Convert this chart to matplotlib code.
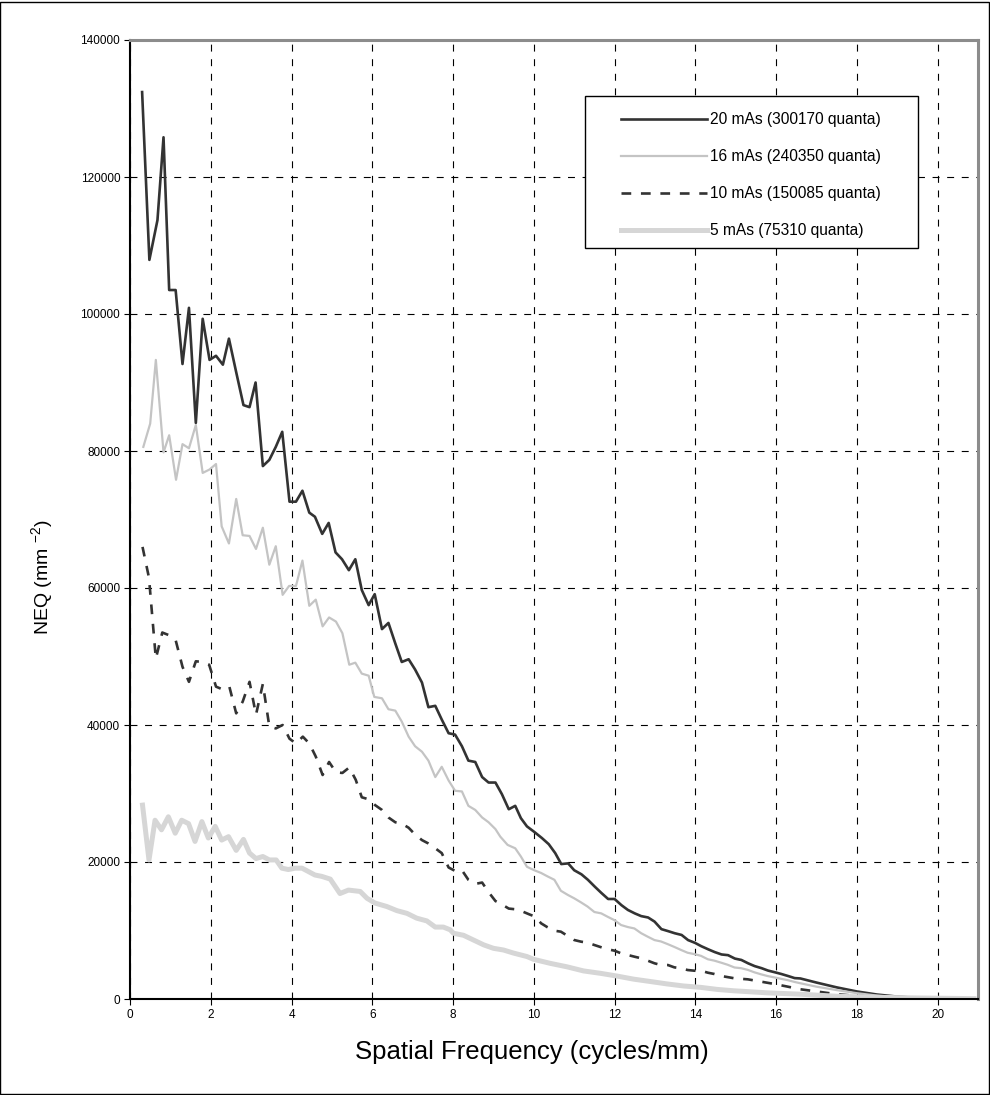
import matplotlib
matplotlib.use("Agg")
import matplotlib.pyplot as plt
from matplotlib.patches import Rectangle

plt.rcParams['font.family'] = ['Liberation Sans', 'DejaVu Sans']
plt.rcParams['mathtext.default'] = 'regular'
plt.rcParams['lines.scale_dashes'] = False

# 20 mAs (300170 quanta)
f20 = [0.30, 0.48, 0.68, 0.83, 0.97, 1.13, 1.30, 1.46, 1.63, 1.80, 1.97, 2.13, 2.30, 2.45, 2.63, 2.81, 2.96, 3.11,
       3.29, 3.45, 3.61, 3.77, 3.95, 4.11, 4.27, 4.44, 4.58, 4.76, 4.92, 5.09, 5.25, 5.42, 5.58, 5.74, 5.91, 6.06,
       6.24, 6.40, 6.57, 6.73, 6.90, 7.06, 7.23, 7.39, 7.56, 7.72, 7.89, 8.05, 8.22, 8.38, 8.55, 8.72, 8.88, 9.05,
       9.21, 9.38, 9.54, 9.68, 9.83, 10.01, 10.20, 10.37, 10.53, 10.68, 10.85, 11.00, 11.18, 11.34, 11.51, 11.67,
       11.84, 12.00, 12.17, 12.33, 12.50, 12.66, 12.83, 12.99, 13.16, 13.33, 13.49, 13.66, 13.82, 13.99, 14.15,
       14.32, 14.48, 14.65, 14.81, 14.98, 15.14, 15.31, 15.47, 15.64, 15.80, 15.97, 16.13, 16.30, 16.46, 16.60,
       17.0, 17.5, 18.0, 18.5, 19.0, 19.5, 20.0, 20.5, 20.9]
neq20 = [132400, 107900, 113700, 125800, 103500, 103500, 92700, 100900, 84100, 99300, 93300, 93900, 92600, 96400,
         91500, 86700, 86400, 90000, 77800, 78700, 80600, 82800, 72600, 72600, 74200, 71000, 70400, 67900, 69500,
         65200, 64200, 62600, 64200, 59700, 57500, 59100, 54000, 54900, 51900, 49200, 49600, 48100, 46200, 42600,
         42800, 40800, 38800, 38600, 36900, 34800, 34600, 32400, 31600, 31600, 29900, 27700, 28200, 26400, 25200,
         24400, 23500, 22600, 21300, 19700, 19800, 18800, 18200, 17400, 16400, 15500, 14600, 14600, 13700, 13000,
         12500, 12100, 11900, 11300, 10200, 9900, 9600, 9350, 8600, 8200, 7700, 7250, 6850, 6500, 6400, 5900, 5700,
         5200, 4800, 4500, 4150, 3900, 3650, 3350, 3050, 3000, 2400, 1700, 1100, 650, 350, 150, 50, 0, 0]

# 16 mAs (240350 quanta)
f16 = [0.33, 0.50, 0.64, 0.83, 0.97, 1.14, 1.30, 1.46, 1.63, 1.80, 1.97, 2.13, 2.27, 2.45, 2.63, 2.79, 2.96, 3.12,
       3.29, 3.45, 3.61, 3.78, 3.94, 4.11, 4.27, 4.44, 4.60, 4.77, 4.93, 5.10, 5.26, 5.43, 5.58, 5.74, 5.91, 6.05,
       6.24, 6.40, 6.57, 6.73, 6.90, 7.06, 7.23, 7.39, 7.56, 7.72, 7.89, 8.05, 8.22, 8.38, 8.55, 8.72, 8.88, 9.05,
       9.17, 9.35, 9.54, 9.68, 9.83, 10.01, 10.18, 10.34, 10.51, 10.67, 10.84, 11.00, 11.17, 11.33, 11.50, 11.67,
       11.83, 12.00, 12.16, 12.33, 12.49, 12.66, 12.82, 12.99, 13.15, 13.32, 13.48, 13.65, 13.81, 13.98, 14.14,
       14.31, 14.47, 14.64, 14.80, 14.97, 15.13, 15.30, 15.46, 15.63, 15.79, 15.96, 16.12, 16.29, 16.45, 16.60,
       17.0, 17.5, 18.0, 18.5, 19.0, 19.5, 20.0, 20.9]
neq16 = [80600, 84000, 93300, 79800, 82300, 75800, 81000, 80400, 83800, 76800, 77300, 78100, 69000, 66500, 73000,
         67700, 67600, 65700, 68800, 63400, 66100, 59000, 60300, 60300, 64000, 57400, 58300, 54400, 55700, 55100,
         53400, 48800, 49100, 47500, 47200, 44100, 43900, 42300, 42100, 40500, 38300, 36900, 36100, 34800, 32400,
         33900, 31900, 30400, 30300, 28200, 27600, 26500, 25800, 24800, 23700, 22500, 22000, 20800, 19300, 18800,
         18400, 17900, 17400, 15800, 15200, 14700, 14100, 13500, 12700, 12500, 12000, 11500, 10800, 10500, 10300,
         9600, 9100, 8600, 8400, 8000, 7600, 7150, 6750, 6550, 6300, 5800, 5600, 5300, 5000, 4600, 4500, 4250, 3900,
         3600, 3350, 3150, 2950, 2750, 2500, 2300, 1800, 1300, 850, 500, 250, 100, 30, 0]

# 10 mAs (150085 quanta)
f10 = [0.31, 0.47, 0.64, 0.80, 0.97, 1.13, 1.30, 1.46, 1.63, 1.80, 1.96, 2.13, 2.29, 2.46, 2.63, 2.79, 2.96, 3.12,
       3.29, 3.45, 3.61, 3.78, 3.95, 4.11, 4.28, 4.44, 4.60, 4.77, 4.93, 5.10, 5.26, 5.43, 5.59, 5.74, 5.91, 6.07,
       6.24, 6.40, 6.57, 6.73, 6.90, 7.06, 7.23, 7.39, 7.56, 7.72, 7.89, 8.05, 8.22, 8.38, 8.55, 8.72, 8.88, 9.05,
       9.21, 9.38, 9.54, 9.71, 9.87, 10.04, 10.18, 10.34, 10.51, 10.67, 10.84, 11.00, 11.17, 11.33, 11.50, 11.67,
       11.83, 12.00, 12.16, 12.33, 12.49, 12.66, 12.82, 12.99, 13.15, 13.32, 13.48, 13.65, 13.81, 13.98, 14.14,
       14.31, 14.47, 14.64, 14.97, 15.30, 15.63, 15.96, 16.29, 16.60, 17.0, 17.5, 18.0, 18.5, 19.0, 19.5, 20.0, 20.9]
neq10 = [66000, 61500, 49700, 53500, 53100, 52400, 48500, 46300, 49300, 49200, 48800, 45600, 45200, 45600, 41700,
         43400, 46300, 41500, 46000, 39800, 39500, 40000, 38000, 37300, 38300, 37300, 35400, 32700, 34600, 33100,
         33000, 33800, 32000, 29450, 29150, 28300, 27600, 26500, 25800, 25600, 25000, 24000, 23200, 22700, 22000,
         21300, 19200, 18700, 18800, 17400, 16800, 17000, 15600, 14300, 13800, 13200, 13100, 12800, 12400, 12000,
         11050, 10470, 9970, 9830, 9200, 8610, 8370, 8220, 7880, 7550, 7260, 7050, 6670, 6420, 6180, 5940, 5600,
         5210, 4960, 4960, 4620, 4480, 4230, 4130, 4130, 3840, 3650, 3360, 3020, 2870, 2530, 2190, 1800, 1420, 1100,
         700, 450, 300, 180, 100, 40, 0]

# 5 mAs (75310 quanta)
f5 = [0.31, 0.47, 0.62, 0.78, 0.95, 1.12, 1.28, 1.45, 1.61, 1.78, 1.94, 2.11, 2.27, 2.44, 2.63, 2.81, 2.96, 3.12,
      3.29, 3.45, 3.62, 3.76, 3.92, 4.09, 4.26, 4.42, 4.58, 4.75, 4.96, 5.20, 5.41, 5.70, 5.87, 6.07, 6.36, 6.61,
      6.86, 7.10, 7.35, 7.56, 7.76, 7.93, 8.01, 8.26, 8.51, 8.76, 9.00, 9.25, 9.50, 9.83, 9.99, 10.41, 10.82, 11.23,
      11.65, 12.06, 12.47, 12.89, 13.30, 13.71, 14.13, 14.54, 14.95, 15.37, 15.78, 16.19, 16.60, 17.5, 18.5, 19.5,
      20.5, 20.9]
neq5 = [28300, 20300, 26100, 24700, 26600, 24200, 26100, 25600, 23000, 25900, 23500, 25200, 23200, 23700, 21700,
        23300, 21300, 20500, 20800, 20300, 20300, 19100, 18900, 19100, 19100, 18600, 18100, 17900, 17500, 15400,
        15900, 15700, 14700, 14000, 13500, 12900, 12500, 11800, 11400, 10500, 10500, 10100, 9600, 9300, 8600, 7900,
        7400, 7150, 6700, 6200, 5800, 5200, 4700, 4100, 3750, 3350, 2900, 2550, 2200, 1900, 1700, 1400, 1200, 1050,
        900, 800, 700, 400, 250, 150, 80, 50]

labels = ["20 mAs (300170 quanta)", "16 mAs (240350 quanta)", "10 mAs (150085 quanta)", "5 mAs (75310 quanta)"]
xticks = list(range(0, 21, 2))
yticks = list(range(0, 140001, 20000))

fig = plt.figure(figsize=(9.9, 10.95), dpi=100)
ax = fig.add_axes([130 / 990, 96 / 1095, 848 / 990, 959 / 1095])

ax.plot(f20, neq20, color='#333333', lw=1.9, label=labels[0])
ax.plot(f16, neq16, color='#c4c4c4', lw=1.6, label=labels[1])
ax.plot(f10, neq10, color='#333333', lw=1.9, ls=(0, (7, 7)), label=labels[2])
ax.plot(f5, neq5, color='#d6d6d6', lw=3.6, label=labels[3])

ax.set_xlim(0, 21)
ax.set_ylim(0, 140000)
ax.set_xticks(xticks)
ax.set_yticks(yticks)
ax.tick_params(labelsize=8.5, length=4, width=0.8, direction='out', pad=3)
ax.grid(True, color='black', lw=0.8, ls=(0, (5, 5.5)))
ax.set_axisbelow(True)

for s in ['left', 'bottom']:
    ax.spines[s].set_color('black')
    ax.spines[s].set_linewidth(1.5)
for s in ['top', 'right']:
    ax.spines[s].set_color('#8c8c8c')
    ax.spines[s].set_linewidth(2.2)

ax.set_xlabel("Spatial Frequency (cycles/mm)", fontsize=18.5)
ax.set_ylabel("NEQ (mm $^{-2}$)", fontsize=14)
ax.xaxis.set_label_coords(0.474, -0.043)
ax.yaxis.set_label_coords(-0.088, 0.44)

# legend box drawn separately so the padding matches
box = Rectangle((585 / 990, 1 - 248 / 1095), 333 / 990, 152 / 1095, transform=fig.transFigure,
                facecolor='white', edgecolor='black', lw=1.0, zorder=4, clip_on=False)
ax.add_patch(box)
leg = ax.legend(loc='upper left', bbox_to_anchor=((621 - 130) / 848, (999 - 112) / 959), fontsize=11.2,
                frameon=False, handlelength=5.5, handletextpad=0.25,
                labelspacing=1.42, borderpad=0, borderaxespad=0)
leg.set_zorder(5)

fig.patches.append(Rectangle((0.0005, 0.0005), 0.998, 0.998, transform=fig.transFigure,
                             fill=False, edgecolor='black', lw=1.0))

fig.savefig("out.png", dpi=100)
